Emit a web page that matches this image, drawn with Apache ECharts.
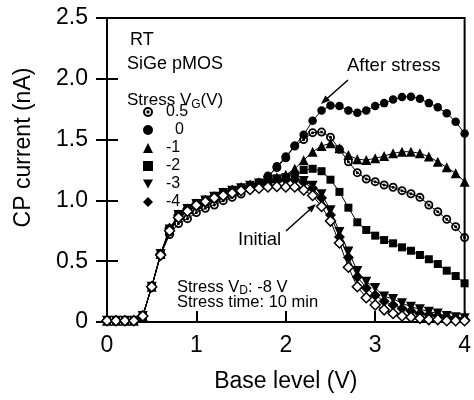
<!DOCTYPE html>
<html><head><meta charset="utf-8">
<script src="https://cdn.jsdelivr.net/npm/echarts@6/dist/echarts.min.js"></script>
<style>html,body{margin:0;padding:0;background:#fff}#c{width:474px;height:400px}</style>
</head><body><div id="c"></div>
<script>
const xs = [0,0.1,0.2,0.3,0.4,0.5,0.6,0.7,0.8,0.9,1.0,1.1,1.2,1.3,1.4,1.5,1.6,1.7,1.8,1.9,2.0,2.1,2.2,2.3,2.4,2.5,2.6,2.7,2.8,2.9,3.0,3.1,3.2,3.3,3.4,3.5,3.6,3.7,3.8,3.9,4.0];
const stressVG = ['0.5','0','-1','-2','-3','-4'];
const vg05 = [0.01,0.01,0.01,0.01,0.05,0.29,0.55,0.72,0.81,0.85,0.90,0.935,0.962,0.998,1.025,1.053,1.094,1.146,1.20,1.27,1.35,1.447,1.50,1.557,1.562,1.52,1.42,1.318,1.228,1.176,1.154,1.127,1.108,1.08,1.055,1.025,0.962,0.907,0.845,0.784,0.694];
const vg0 = [0.01,0.01,0.01,0.01,0.05,0.29,0.55,0.74,0.86,0.91,0.95,0.98,1.01,1.04,1.07,1.09,1.11,1.14,1.19,1.28,1.36,1.45,1.54,1.655,1.74,1.78,1.776,1.74,1.72,1.74,1.776,1.80,1.83,1.85,1.853,1.836,1.80,1.766,1.716,1.647,1.55];
const vgm1 = [0.01,0.01,0.01,0.01,0.05,0.29,0.56,0.76,0.88,0.93,0.97,1.00,1.03,1.06,1.09,1.11,1.13,1.15,1.17,1.19,1.21,1.26,1.33,1.40,1.447,1.47,1.428,1.373,1.338,1.332,1.346,1.365,1.387,1.40,1.40,1.387,1.36,1.318,1.272,1.223,1.154];
const vgm2 = [0.01,0.01,0.01,0.01,0.05,0.29,0.56,0.76,0.88,0.93,0.97,1.00,1.03,1.06,1.08,1.10,1.12,1.14,1.16,1.18,1.19,1.21,1.25,1.26,1.24,1.17,1.07,0.94,0.82,0.757,0.71,0.674,0.647,0.614,0.586,0.551,0.516,0.477,0.422,0.378,0.318];
const vgm3 = [0.01,0.01,0.01,0.01,0.05,0.29,0.56,0.76,0.88,0.93,0.97,1.00,1.03,1.06,1.08,1.10,1.12,1.14,1.16,1.17,1.18,1.18,1.16,1.12,1.05,0.92,0.74,0.58,0.42,0.33,0.28,0.21,0.19,0.155,0.125,0.105,0.085,0.07,0.05,0.04,0.03];
const vgm4 = [0.01,0.01,0.01,0.01,0.05,0.29,0.56,0.77,0.88,0.93,0.97,1.00,1.03,1.06,1.08,1.10,1.12,1.13,1.15,1.16,1.17,1.17,1.15,1.10,1.02,0.88,0.70,0.53,0.37,0.28,0.22,0.17,0.14,0.11,0.09,0.07,0.06,0.05,0.04,0.03,0.02];
const initial = [0.01,0.01,0.01,0.01,0.05,0.29,0.55,0.75,0.86,0.91,0.96,0.99,1.02,1.04,1.06,1.08,1.09,1.10,1.11,1.115,1.11,1.11,1.085,1.04,0.95,0.83,0.65,0.45,0.29,0.20,0.14,0.10,0.07,0.05,0.04,0.03,0.02,0.02,0.01,0.01,0.01];
const xTicks = [0,1,2,3,4];
const yTicks = [0,0.5,1.0,1.5,2.0,2.5];

const FONT = "'Liberation Sans', Arial, Helvetica, sans-serif";
const BULLSEYE = 'path://M0,-5A5,5 0 1,1 0,5A5,5 0 1,1 0,-5ZM0,-3A3,3 0 1,0 0,3A3,3 0 1,0 0,-3ZM0,-1.7A1.7,1.7 0 1,1 0,1.7A1.7,1.7 0 1,1 0,-1.7Z';
const DOWNTRI = 'path://M0,0L10,0L5,9Z';
const symbols = [BULLSEYE, 'circle', 'triangle', 'rect', DOWNTRI, 'diamond'];
const sizes = [9, 8.5, 10, 8, 10, 11];
const seriesVals = [vg05, vg0, vgm1, vgm2, vgm3, vgm4];

function pairs(v){ return xs.map((x,i)=>[x, v[i]]); }

const series = stressVG.map((name,k)=>({
  name: name, type:'line', data: pairs(seriesVals[k]),
  symbol: symbols[k], symbolSize: sizes[k], showAllSymbol:true, clip:false,
  lineStyle:{color:'#000', width:1}, itemStyle:{color:'#000'}, z: 2+k,
  emphasis:{disabled:true}, animation:false
}));
series.push({
  name:'Initial', type:'line', data: pairs(initial), symbol:'diamond', symbolSize:10, clip:false, showAllSymbol:true,
  lineStyle:{color:'#000', width:1}, itemStyle:{color:'#fff', borderColor:'#000', borderWidth:1.5}, z:10,
  emphasis:{disabled:true}, animation:false
});

const chart = echarts.init(document.getElementById('c'), null, {renderer:'canvas'});
const labelFmt = v => v===0 ? '0' : v.toFixed(1);
chart.setOption({
  animation:false,
  backgroundColor:'#fff',
  grid:{left:107, right:6, top:18, bottom:78, show:true, borderColor:'#000', borderWidth:2, backgroundColor:'transparent'},
  legend:{
    data: stressVG.map((n,k)=>({name:n, icon: symbols[k]})),
    orient:'vertical', left:138, top:99, itemWidth:10, itemHeight:10, itemGap:2,
    selectedMode:false,
    formatter: n => '\u2002' + (n==='0' ? '\u2007' + n : n),
    textStyle:{color:'#000', fontSize:16, fontFamily:FONT},
    itemStyle:{color:'#000', borderWidth:0}
  },
  xAxis:[{
    type:'value', min:0, max:4, interval:1, position:'bottom',
    name:'Base level (V)', nameLocation:'middle', nameGap:48,
    nameTextStyle:{fontSize:23, fontFamily:FONT, color:'#000'},
    axisLine:{show:true, lineStyle:{color:'#000', width:2}},
    axisTick:{show:true, inside:true, length:11, lineStyle:{color:'#000', width:2}},
    axisLabel:{fontSize:23, fontFamily:FONT, color:'#000', margin:12, formatter: v=>String(v)},
    splitLine:{show:false}
  },{
    type:'value', min:0, max:4, interval:1, position:'top',
    axisLine:{show:true, lineStyle:{color:'#000', width:2}},
    axisTick:{show:false}, axisLabel:{show:false}, splitLine:{show:false}
  }],
  yAxis:[{
    type:'value', min:0, max:2.5, interval:0.5, position:'left',
    axisLine:{show:true, lineStyle:{color:'#000', width:2}},
    axisTick:{show:true, inside:true, length:11, lineStyle:{color:'#000', width:2}},
    axisLabel:{fontSize:23, fontFamily:FONT, color:'#000', margin:19, formatter: labelFmt},
    splitLine:{show:false}
  },{
    type:'value', min:0, max:2.5, interval:0.5, position:'right',
    axisLine:{show:true, lineStyle:{color:'#000', width:2}},
    axisTick:{show:true, inside:true, length:11, lineStyle:{color:'#000', width:2}},
    axisLabel:{show:false}, splitLine:{show:false}
  }],
  series: series,
  graphic:[
    {type:'text', x:24, y:147.5, rotation:Math.PI/2, style:{text:'CP current (nA)', fontSize:23, fontFamily:FONT, fill:'#000', textAlign:'center', textVerticalAlign:'middle'}},
    {type:'text', x:130, y:40, style:{text:'RT', fontSize:18, fontFamily:FONT, fill:'#000', textVerticalAlign:'middle'}},
    {type:'text', x:127, y:64, style:{text:'SiGe pMOS', fontSize:18, fontFamily:FONT, fill:'#000', textVerticalAlign:'middle'}},
    {type:'text', x:127, y:100, style:{text:'{a|Stress V}{s|G}{a|(V)}', fontFamily:FONT, fill:'#000', textVerticalAlign:'middle',
      rich:{a:{fontSize:17, fontFamily:FONT, lineHeight:20, verticalAlign:'middle'}, s:{fontSize:12, fontFamily:FONT, lineHeight:20, padding:[9,0,0,0]}}}},
    {type:'text', x:347, y:66, style:{text:'After stress', fontSize:18.5, fontFamily:FONT, fill:'#000', textVerticalAlign:'middle'}},
    {type:'text', x:238, y:240, style:{text:'Initial', fontSize:18.5, fontFamily:FONT, fill:'#000', textVerticalAlign:'middle'}},
    {type:'text', x:177, y:287, style:{text:'{a|Stress V}{s|D}{a|: -8 V}', fontFamily:FONT, fill:'#000', textVerticalAlign:'middle',
      rich:{a:{fontSize:16.5, fontFamily:FONT, lineHeight:18, verticalAlign:'middle'}, s:{fontSize:12, fontFamily:FONT, lineHeight:18, padding:[8,0,0,0]}}}},
    {type:'text', x:177, y:302, style:{text:'Stress time: 10 min', fontSize:16.5, fontFamily:FONT, fill:'#000', textVerticalAlign:'middle'}},
    {type:'line', shape:{x1:348, y1:80, x2:326, y2:99.5}, style:{stroke:'#000', lineWidth:1.5}},
    {type:'polygon', shape:{points:[[321,104],[330,100.6],[325.4,95.4]]}, style:{fill:'#000'}},
    {type:'line', shape:{x1:286, y1:231, x2:311, y2:208.5}, style:{stroke:'#000', lineWidth:1.5}},
    {type:'polygon', shape:{points:[[316,204],[311.6,212.6],[307.0,207.4]]}, style:{fill:'#000'}}
  ]
});
</script></body></html>
